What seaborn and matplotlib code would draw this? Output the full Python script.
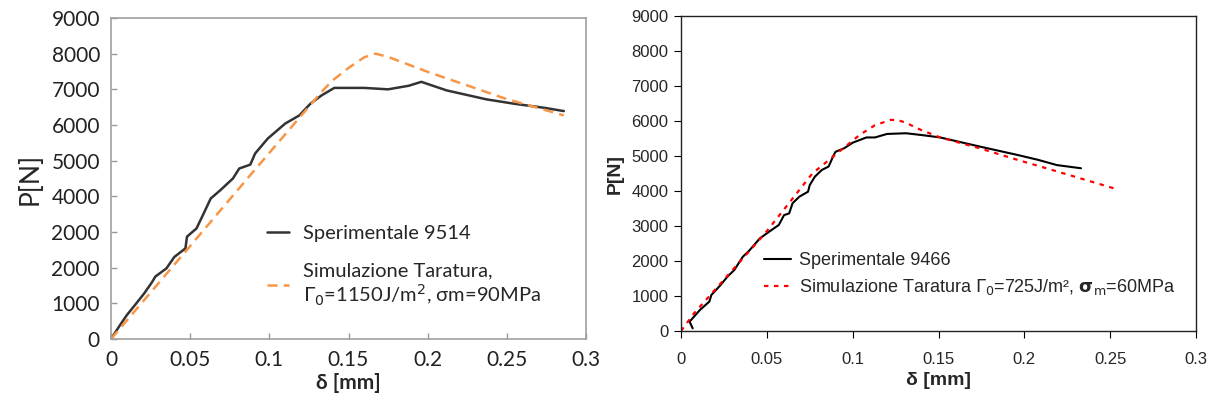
import numpy as np
import pandas as pd
import matplotlib
matplotlib.use("Agg")
import matplotlib.pyplot as plt
import seaborn as sns

# --- left panel: prova 9514 ---
exp1_d = [0, 0.006, 0.010, 0.016, 0.021, 0.026, 0.028, 0.035, 0.040, 0.047, 0.048,
          0.054, 0.058, 0.063, 0.069, 0.077, 0.081, 0.088, 0.091, 0.099, 0.104,
          0.110, 0.119, 0.126, 0.133, 0.141, 0.160, 0.175, 0.188, 0.196, 0.212,
          0.237, 0.254, 0.274, 0.286]
exp1_p = [0, 410, 670, 1000, 1280, 1600, 1750, 1980, 2300, 2540, 2870,
          3100, 3470, 3940, 4170, 4500, 4780, 4890, 5200, 5620, 5810,
          6040, 6270, 6600, 6830, 7040, 7040, 7000, 7100, 7210, 6970,
          6720, 6600, 6480, 6390]
sim1_d = [0, 0.047, 0.090, 0.133, 0.140, 0.150, 0.160, 0.167, 0.175, 0.200,
          0.225, 0.249, 0.286]
sim1_p = [0, 2450, 4700, 6930, 7250, 7600, 7900, 8000, 7910, 7490,
          7110, 6740, 6270]

# --- right panel: prova 9466 ---
exp2_d = [0.0068, 0.005, 0.011, 0.0165, 0.0177, 0.023, 0.027, 0.031, 0.036, 0.040,
          0.046, 0.052, 0.057, 0.060, 0.063, 0.065, 0.069, 0.074, 0.075, 0.078,
          0.082, 0.086, 0.089, 0.090, 0.095, 0.100, 0.108, 0.113, 0.120, 0.131,
          0.140, 0.151, 0.174, 0.196, 0.208, 0.219, 0.233]
exp2_p = [76, 267, 600, 840, 1030, 1310, 1550, 1740, 2120, 2310,
          2650, 2860, 3030, 3310, 3360, 3650, 3840, 3980, 4170, 4410,
          4600, 4700, 5030, 5120, 5220, 5380, 5530, 5530, 5630, 5650,
          5600, 5530, 5270, 5030, 4890, 4740, 4650]
sim2_d = [0, 0.0075, 0.049, 0.0765, 0.092, 0.104, 0.113, 0.122, 0.126, 0.131,
          0.140, 0.151, 0.174, 0.196, 0.219, 0.254]
sim2_p = [0, 500, 2790, 4500, 5120, 5600, 5880, 6030, 6030, 5950,
          5740, 5530, 5220, 4890, 4560, 4050]

yticks = [0, 1000, 2000, 3000, 4000, 5000, 6000, 7000, 8000, 9000]
yticklabels_left = ["0", "1000", "2000", "2000", "4000", "5000", "6000", "7000", "8000", "9000"]
xticks = [0, 0.05, 0.1, 0.15, 0.2, 0.25, 0.3]
xticklabels = ["0", "0.05", "0.1", "0.15", "0.2", "0.25", "0.3"]

sns.set_style("white")

fig = plt.figure(figsize=(12.2, 4.08), dpi=100)
ax1 = fig.add_axes([111 / 1220, 1 - 339 / 408, 475 / 1220, 321 / 408])
ax2 = fig.add_axes([681 / 1220, 1 - 331 / 408, 515 / 1220, 315 / 408])

# left
df1 = pd.DataFrame({"d": exp1_d, "p": exp1_p})
df1s = pd.DataFrame({"d": sim1_d, "p": sim1_p})
sns.lineplot(data=df1, x="d", y="p", ax=ax1, color="#333333", lw=1.8, sort=False,
             label="Sperimentale 9514")
sns.lineplot(data=df1s, x="d", y="p", ax=ax1, color="#f79646", lw=1.8, sort=False,
             label="Simulazione Taratura,\n$\\Gamma_0$=1150J/m$^2$, σm=90MPa")
ax1.lines[1].set_linestyle((0, (4, 2.5)))
ax1.set_xlim(0, 0.3)
ax1.set_ylim(0, 9000)
ax1.set_xticks(xticks)
ax1.set_xticklabels(xticklabels)
ax1.set_yticks(yticks)
ax1.set_yticklabels(yticklabels_left)
cal = ["Lato", "DejaVu Sans"]
for lab in ax1.get_xticklabels() + ax1.get_yticklabels():
    lab.set_family(cal)
    lab.set_fontsize(15)
    lab.set_color("#222222")
ax1.tick_params(direction="in", length=4, width=1, color="#999999", pad=8,
                bottom=True, left=True)
for s in ax1.spines.values():
    s.set_color("#a0a0a0")
    s.set_linewidth(1.2)
ax1.set_xlabel("δ [mm]", fontsize=15, fontweight="bold", family=cal, labelpad=2)
ax1.set_ylabel("P[N]", fontsize=19, family=cal, labelpad=6)
ax1.legend(loc="lower left", bbox_to_anchor=(0.29, 0.04), frameon=False,
           prop={"family": cal, "size": 14.5}, handlelength=1.1,
           labelspacing=1.0, handletextpad=0.7)

# right
df2 = pd.DataFrame({"d": exp2_d, "p": exp2_p})
df2s = pd.DataFrame({"d": sim2_d, "p": sim2_p})
sns.lineplot(data=df2, x="d", y="p", ax=ax2, color="black", lw=1.5, sort=False,
             label="Sperimentale 9466")
sns.lineplot(data=df2s, x="d", y="p", ax=ax2, color="#ff0000", lw=1.6, sort=False,
             label="Simulazione Taratura $\\Gamma_0$=725J/m², $\\mathbf{\\sigma}_\\mathrm{m}$=60MPa")
ax2.lines[1].set_linestyle((0, (2, 2.5)))
ax2.set_xlim(0, 0.3)
ax2.set_ylim(0, 9000)
ax2.set_xticks(xticks)
ax2.set_xticklabels(xticklabels)
ax2.set_yticks(yticks)
ari = ["Liberation Sans", "DejaVu Sans"]
for lab in ax2.get_xticklabels() + ax2.get_yticklabels():
    lab.set_family(ari)
    lab.set_fontsize(12)
ax2.tick_params(axis="x", direction="out", length=5, color="black", pad=10, bottom=True)
ax2.tick_params(axis="y", direction="out", length=5, color="black", pad=4, left=True)
for s in ax2.spines.values():
    s.set_color("#222222")
    s.set_linewidth(1.0)
ax2.set_xlabel("δ [mm]", fontsize=14, fontweight="bold", family=ari, labelpad=4)
ax2.set_ylabel("P[N]", fontsize=14, fontweight="bold", family=ari)
ax2.yaxis.set_label_coords(-0.112, 0.5)
ax2.legend(loc="lower left", bbox_to_anchor=(0.13, 0.055), frameon=False,
           prop={"family": ari, "size": 13}, handlelength=1.5,
           labelspacing=0.45, handletextpad=0.4)

fig.savefig("out.png", dpi=100)
